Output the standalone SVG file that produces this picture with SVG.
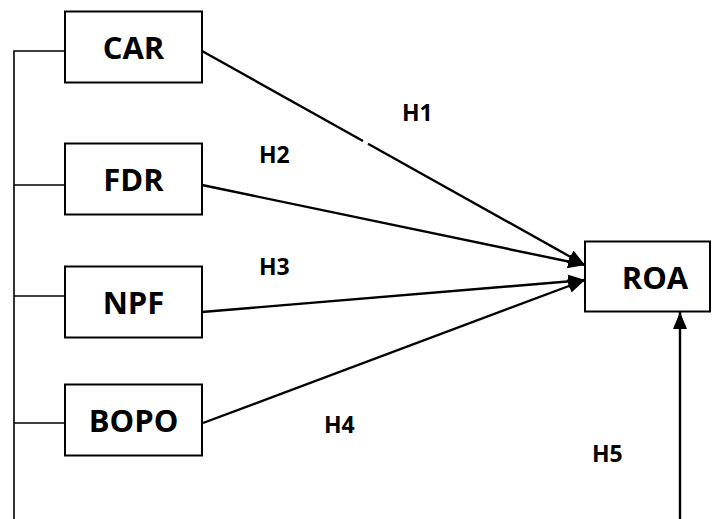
<svg xmlns="http://www.w3.org/2000/svg" width="712" height="519" viewBox="0 0 712 519">
  <style>
    .box { fill: #ffffff; stroke: #000000; stroke-width: 2; }
    .name { font-family: "Open Sans", "Liberation Sans", sans-serif; font-weight: 700; font-size: 31px; fill: #000000; text-anchor: middle; }
    .hyp { font-family: "Open Sans", "Liberation Sans", sans-serif; font-weight: 700; font-size: 23px; fill: #000000; }
    .bus { fill: none; stroke: #000000; stroke-width: 1.6; }
    .path { fill: none; stroke: #000000; stroke-width: 2.4; }
  </style>
  <defs>
    <marker id="head" markerUnits="userSpaceOnUse" markerWidth="18" markerHeight="14" refX="17" refY="7" orient="auto">
      <path d="M0,0 L17,7 L0,14 z" fill="#000000"/>
    </marker>
  </defs>
  <rect width="712" height="519" fill="#ffffff"/>

  <!-- connectors -->
  <g id="connectors">
    <!-- shared left bus and stubs into each predictor -->
    <path class="bus" d="M14,519 V51 H65 M14,185 H65 M14,296 H65 M14,423 H65"/>
    <!-- H1 path, drawn in two pieces with a small break -->
    <path class="path" d="M202,51 L363,141"/>
    <path class="path" d="M368,143.8 L585,265" marker-end="url(#head)"/>
    <path class="path" d="M202,185 L585,265" marker-end="url(#head)"/>
    <path class="path" d="M202,312 L585,280" marker-end="url(#head)"/>
    <path class="path" d="M203,423 L585,280" marker-end="url(#head)"/>
    <!-- H5 path from the bottom up into ROA -->
    <path class="path" d="M680,519 V312" marker-end="url(#head)"/>
  </g>

  <!-- hypothesis labels -->
  <g id="labels">
    <text class="hyp" x="402" y="121">H1</text>
    <text class="hyp" x="259" y="163">H2</text>
    <text class="hyp" x="259" y="275">H3</text>
    <text class="hyp" x="324" y="433">H4</text>
    <text class="hyp" x="592" y="462">H5</text>
  </g>

  <g id="CAR">
    <rect class="box" x="65" y="11.5" width="137" height="71"/>
    <text class="name" x="133.5" y="58.5">CAR</text>
  </g>
  <g id="FDR">
    <rect class="box" x="65" y="143.5" width="137" height="71"/>
    <text class="name" x="133.5" y="190.5">FDR</text>
  </g>
  <g id="NPF">
    <rect class="box" x="65" y="266.5" width="137" height="71"/>
    <text class="name" x="133.5" y="313.5">NPF</text>
  </g>
  <g id="BOPO">
    <rect class="box" x="65" y="384.5" width="137" height="71"/>
    <text class="name" x="133.5" y="431.5">BOPO</text>
  </g>
  <g id="ROA">
    <rect class="box" x="585" y="241.5" width="125" height="70"/>
    <text class="name" x="655" y="288.5">ROA</text>
  </g>
</svg>
